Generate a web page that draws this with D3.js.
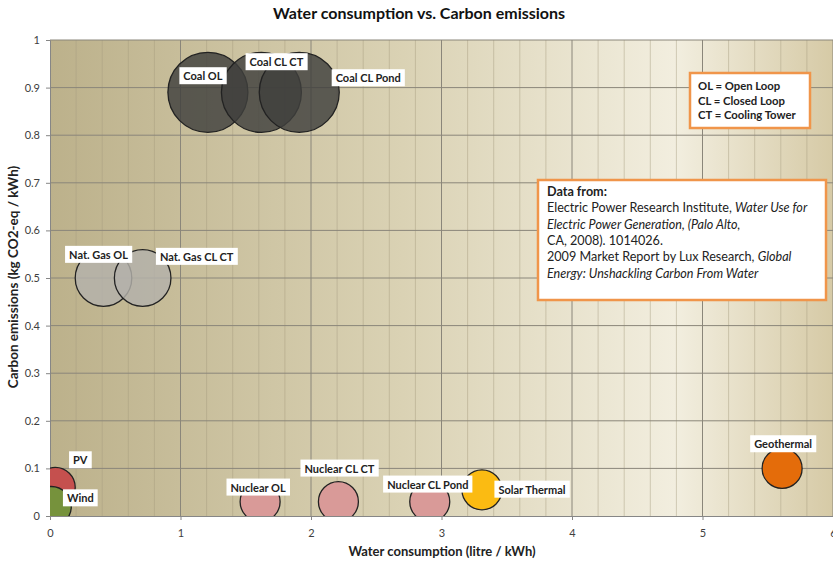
<!DOCTYPE html>
<html>
<head>
<meta charset="utf-8">
<script src="https://cdn.jsdelivr.net/npm/d3@7"></script>
<style>
  body { margin: 0; background: #fff; }
  svg { font-family: Lato, "Open Sans", sans-serif; }
</style>
</head>
<body>
<div class="container"></div>
<script>
const names = ["Coal OL", "Coal CL CT", "Coal CL Pond", "Nat. Gas OL", "Nat. Gas CL CT",
  "PV", "Wind", "Nuclear OL", "Nuclear CL CT", "Nuclear CL Pond", "Solar Thermal", "Geothermal"];
const water = [1.21, 1.62, 1.91, 0.41, 0.71, 0.04, 0.01, 1.61, 2.21, 2.91, 3.31, 5.61];
const carbon = [0.89, 0.89, 0.89, 0.50, 0.50, 0.06, 0.02, 0.03, 0.03, 0.03, 0.055, 0.10];
const bubble = [4, 4, 4, 2, 2, 1, 1, 1, 1, 1, 1, 1];
const xTicks = [0, 1, 2, 3, 4, 5, 6];
const yTicks = [0, 0.1, 0.2, 0.3, 0.4, 0.5, 0.6, 0.7, 0.8, 0.9, 1];

const width = 833, height = 561;
const margin = { top: 40, right: 0, bottom: 45, left: 50 };

const fills = {
  "Coal OL": "#3f3f3d", "Coal CL CT": "#3f3f3d", "Coal CL Pond": "#3f3f3d",
  "Nat. Gas OL": "#b3b1ab", "Nat. Gas CL CT": "#b3b1ab",
  "PV": "#c5504e", "Wind": "#76923c",
  "Nuclear OL": "#d99a98", "Nuclear CL CT": "#d99a98", "Nuclear CL Pond": "#d99a98",
  "Solar Thermal": "#fbbb12", "Geothermal": "#e46c0a"
};
// label box offsets from bubble centre
const labelOffset = {
  "Coal OL": [-5, -16], "Coal CL CT": [15, -30], "Coal CL Pond": [69, -14],
  "Nat. Gas OL": [-5, -23], "Nat. Gas CL CT": [54, -21],
  "PV": [25, -27], "Wind": [29, -8],
  "Nuclear OL": [-2, -14], "Nuclear CL CT": [1, -33], "Nuclear CL Pond": [-2, -17],
  "Solar Thermal": [50, 0], "Geothermal": [1, -24]
};

const data = names.map((n, i) => ({ name: n, x: water[i], y: carbon[i], s: bubble[i] }));

const x = d3.scaleLinear().domain([0, 6]).range([margin.left, width - margin.right]);
const y = d3.scaleLinear().domain([0, 1]).range([height - margin.bottom, margin.top]);
const r = d3.scaleSqrt().domain([0, 4]).range([0, 40]);

const svg = d3.select(".container")
  .append("svg")
  .attr("width", width)
  .attr("height", height);

const defs = svg.append("defs");
const grad = defs.append("linearGradient").attr("id", "bg");
grad.append("stop").attr("offset", "0%").attr("stop-color", "#bcb18b");
grad.append("stop").attr("offset", "45%").attr("stop-color", "#dad2b4");
grad.append("stop").attr("offset", "80%").attr("stop-color", "#f2eedf");
grad.append("stop").attr("offset", "100%").attr("stop-color", "#d6caa6");
defs.append("clipPath").attr("id", "plot")
  .append("rect")
  .attr("x", x(0)).attr("y", y(1))
  .attr("width", x(6) - x(0)).attr("height", y(0) - y(1));

svg.append("rect")
  .attr("x", x(0)).attr("y", y(1))
  .attr("width", x(6) - x(0)).attr("height", y(0) - y(1))
  .attr("fill", "url(#bg)");

// minor vertical grid
svg.append("g")
  .selectAll("line")
  .data(d3.range(0, 6.01, 0.2).filter(v => Math.abs(v - Math.round(v)) > 0.01))
  .join("line")
  .attr("x1", d => x(d)).attr("x2", d => x(d))
  .attr("y1", y(1)).attr("y2", y(0))
  .attr("stroke", "#a59c7e").attr("stroke-opacity", 0.45).attr("stroke-width", 1);

// major grid
svg.append("g")
  .selectAll("line")
  .data(xTicks.slice(1))
  .join("line")
  .attr("x1", d => x(d)).attr("x2", d => x(d))
  .attr("y1", y(1)).attr("y2", y(0))
  .attr("stroke", "#8a867a").attr("stroke-width", 1);
svg.append("g")
  .selectAll("line")
  .data(yTicks.slice(1))
  .join("line")
  .attr("x1", x(0)).attr("x2", x(6))
  .attr("y1", d => y(d)).attr("y2", d => y(d))
  .attr("stroke", "#8a867a").attr("stroke-width", 1);

// axes
const xAxis = svg.append("g")
  .attr("transform", `translate(0,${y(0)})`)
  .call(d3.axisBottom(x).tickValues(xTicks).tickFormat(d3.format("d")).tickSize(4).tickPadding(9));
const yAxis = svg.append("g")
  .attr("transform", `translate(${x(0)},0)`)
  .call(d3.axisLeft(y).tickValues(yTicks).tickFormat(d => d === 0 ? "0" : d === 1 ? "1" : d3.format(".1f")(d)).tickSize(4).tickPadding(6));
[xAxis, yAxis].forEach(a => {
  a.select(".domain").attr("stroke", "#868686");
  a.selectAll(".tick line").attr("stroke", "#868686");
  a.selectAll("text").attr("font-size", 11).attr("fill", "#404040")
    .attr("font-family", "Lato, sans-serif");
});

// bubbles
svg.append("g")
  .attr("clip-path", "url(#plot)")
  .selectAll("circle")
  .data(data)
  .join("circle")
  .attr("cx", d => x(d.x))
  .attr("cy", d => y(d.y))
  .attr("r", d => r(d.s))
  .attr("fill", d => fills[d.name])
  .attr("fill-opacity", d => d.s > 1 ? 0.82 : 1)
  .attr("stroke", "#222")
  .attr("stroke-width", 1.3);

// labels
const lab = svg.append("g")
  .selectAll("g")
  .data(data)
  .join("g")
  .attr("transform", d => {
    const o = labelOffset[d.name];
    return `translate(${x(d.x) + o[0]},${y(d.y) + o[1]})`;
  });
lab.append("text")
  .attr("text-anchor", "middle")
  .attr("dy", "0.35em")
  .attr("font-size", 11)
  .attr("font-weight", "bold")
  .attr("fill", "#222")
  .text(d => d.name);
lab.insert("rect", "text")
  .each(function () {
    const b = this.parentNode.querySelector("text").getBBox();
    d3.select(this)
      .attr("x", b.x - 4).attr("y", b.y - 2)
      .attr("width", b.width + 8).attr("height", b.height + 4);
  })
  .attr("fill", "#fff");

// title + axis titles
svg.append("text")
  .attr("x", 419).attr("y", 19)
  .attr("text-anchor", "middle")
  .attr("font-size", 16).attr("font-weight", "bold").attr("fill", "#111")
  .text("Water consumption vs. Carbon emissions");
svg.append("text")
  .attr("x", 442).attr("y", 556)
  .attr("text-anchor", "middle")
  .attr("font-size", 13).attr("font-weight", "bold").attr("fill", "#222")
  .text("Water consumption (litre / kWh)");
svg.append("text")
  .attr("transform", "translate(18,277) rotate(-90)")
  .attr("text-anchor", "middle")
  .attr("font-size", 13.5).attr("font-weight", "bold").attr("fill", "#222")
  .text("Carbon emissions (kg CO2-eq / kWh)");

// abbreviations box
const key = svg.append("g");
key.append("rect")
  .attr("x", 690).attr("y", 73).attr("width", 120).attr("height", 55)
  .attr("fill", "#fff").attr("stroke", "#f0954a").attr("stroke-width", 2.5);
key.selectAll("text")
  .data(["OL = Open Loop", "CL = Closed Loop", "CT = Cooling Tower"])
  .join("text")
  .attr("x", 698).attr("y", (d, i) => 90 + i * 14.5)
  .attr("font-size", 11.3).attr("font-weight", "bold").attr("fill", "#222")
  .text(d => d);

// source box
const src = svg.append("g");
src.append("rect")
  .attr("x", 538).attr("y", 180).attr("width", 288).attr("height", 120)
  .attr("fill", "#fff").attr("stroke", "#f0954a").attr("stroke-width", 2.5);
const srcLines = [
  [["Data from:", "bold"]],
  [["Electric Power Research Institute, ", "normal"], ["Water Use for", "italic"]],
  [["Electric Power Generation, (Palo Alto,", "italic"]],
  [["CA, 2008).  1014026.", "normal"]],
  [["2009 Market Report by Lux Research, ", "normal"], ["Global", "italic"]],
  [["Energy: Unshackling Carbon From Water", "italic"]]
];
src.selectAll("text")
  .data(srcLines)
  .join("text")
  .attr("x", 547).attr("y", (d, i) => 196 + i * 16.3)
  .attr("font-size", 12.6).attr("fill", "#222")
  .each(function (parts) {
    d3.select(this).selectAll("tspan")
      .data(parts)
      .join("tspan")
      .attr("font-weight", p => p[1] === "bold" ? "bold" : null)
      .attr("font-style", p => p[1] === "italic" ? "italic" : null)
      .text(p => p[0]);
  });
</script>
</body>
</html>
